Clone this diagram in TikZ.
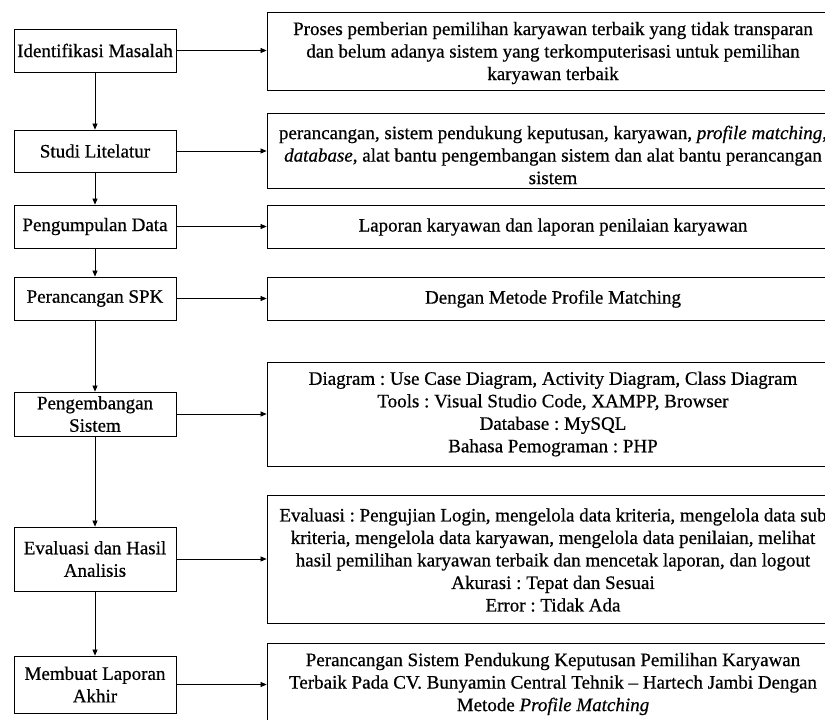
\documentclass[tikz,border=0pt]{standalone}
\usepackage{fontspec}
\setmainfont{Liberation Serif}[FakeBold=0.6]
\usetikzlibrary{arrows.meta}
\frenchspacing
\begin{document}
\begin{tikzpicture}[x=1pt,y=-1pt,
  font=\fontsize{19}{22.5}\selectfont\frenchspacing,
  lbox/.style={draw, line width=0.8pt, minimum width=162pt, inner sep=0pt, align=center},
  rbox/.style={draw, line width=0.8pt, minimum width=572pt, inner sep=0pt},
  rtext/.style={align=center, inner sep=0pt},
  arr/.style={-{Triangle[length=6pt,width=5pt]}, line width=0.7pt}]
\useasboundingbox (0,0) rectangle (825,720);
\clip (0,0) rectangle (825,720);
% left boxes
\node[lbox, minimum height=43pt] (l1) at (95,50.5) {Identifikasi Masalah};
\node[lbox, minimum height=42pt] (l2) at (95,151) {Studi Litelatur};
\node[lbox, minimum height=43pt] (l3) at (95,226.5) {Pengumpulan Data};
\node[lbox, minimum height=43pt] (l4) at (95,298.5) {Perancangan SPK};
\node[lbox, minimum height=44pt] (l5) at (95,414) {Pengembangan\\Sistem};
\node[lbox, minimum height=64pt] (l6) at (95,559) {Evaluasi dan Hasil\\Analisis};
\node[lbox, minimum height=57pt] (l7) at (95,684.5) {Membuat Laporan\\Akhir};
% right boxes
\node[rbox, minimum height=78pt] (r1) at (553,51) {};
\node[rbox, minimum height=75pt] (r2) at (553,150.5) {};
\node[rbox, minimum height=43pt] (r3) at (553,226.5) {};
\node[rbox, minimum height=43pt] (r4) at (553,298.5) {};
\node[rbox, minimum height=104pt] (r5) at (553,414) {};
\node[rbox, minimum height=128pt] (r6) at (553,559) {};
\node[rbox, minimum height=82pt] (r7) at (553,684) {};
% right texts
\node[rtext] (t1) at (553,53) {Proses pemberian pemilihan karyawan terbaik yang tidak transparan\\dan belum adanya sistem yang terkomputerisasi untuk pemilihan\\karyawan terbaik};
\node[rtext] (t2) at (553,155) {perancangan, sistem pendukung keputusan, karyawan, \textit{profile matching},\\\textit{database}, alat bantu pengembangan sistem dan alat bantu perancangan\\sistem};
\node[rtext] (t3) at (553,227) {Laporan karyawan dan laporan penilaian karyawan};
\node[rtext] (t4) at (553,299) {Dengan Metode Profile Matching};
\node[rtext] (t5) at (553,414) {Diagram : Use Case Diagram, Activity Diagram, Class Diagram\\Tools : Visual Studio Code, XAMPP, Browser\\Database : MySQL\\Bahasa Pemograman : PHP};
\node[rtext] (t6) at (553,560) {Evaluasi : Pengujian Login, mengelola data kriteria, mengelola data sub\\kriteria, mengelola data karyawan, mengelola data penilaian, melihat\\hasil pemilihan karyawan terbaik dan mencetak laporan, dan logout\\Akurasi : Tepat dan Sesuai\\Error : Tidak Ada};
\node[rtext] (t7) at (553,684) {Perancangan Sistem Pendukung Keputusan Pemilihan Karyawan\\Terbaik Pada CV. Bunyamin Central Tehnik -- Hartech Jambi Dengan\\Metode \textit{Profile Matching}};
% vertical arrows
\foreach \a/\b in {l1/l2,l2/l3,l3/l4,l4/l5,l5/l6,l6/l7}
  \draw[arr] (\a.south) -- (\b.north);
% horizontal arrows
\foreach \a/\b in {l1/r1,l2/r2,l3/r3,l4/r4,l5/r5,l6/r6,l7/r7}
  \draw[arr] (\a.east) -- (\a.east -| \b.west);
\end{tikzpicture}
\end{document}
